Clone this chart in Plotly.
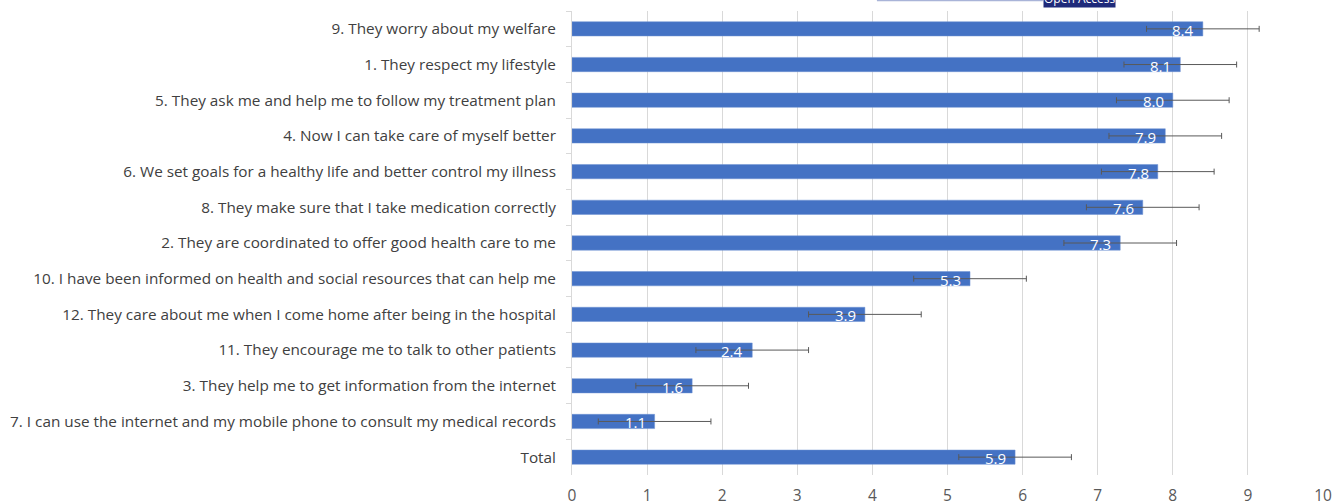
import plotly.graph_objects as go

categories = [
    "9. They worry about my welfare",
    "1. They respect my lifestyle",
    "5. They ask me and help me to follow my treatment plan",
    "4. Now I can take care of myself better",
    "6. We set goals for a healthy life and better control my illness",
    "8. They make sure that I take medication correctly",
    "2. They are coordinated to offer good health care to me",
    "10. I have been informed on health and social resources that can help me",
    "12. They care about me when I come home after being in the hospital",
    "11. They encourage me to talk to other patients",
    "3. They help me to get information from the internet",
    "7. I can use the internet and my mobile phone to consult my medical records",
    "Total",
]
values = [8.4, 8.1, 8.0, 7.9, 7.8, 7.6, 7.3, 5.3, 3.9, 2.4, 1.6, 1.1, 5.9]
errors = [0.75] * 13
x_ticks = [0, 1, 2, 3, 4, 5, 6, 7, 8, 9, 10]

fig = go.Figure()
fig.add_trace(go.Bar(
    y=categories, x=values, orientation="h",
    marker=dict(color="#4472C4", line=dict(color="#6f93d3", width=0.5)),
    error_x=dict(type="data", array=errors, visible=True, color="#595959", thickness=1, width=3),
    hoverinfo="skip",
))
for cat, v in zip(categories, values):
    fig.add_annotation(x=v, y=cat, xref="x", yref="y", text=f"{v:.1f}", showarrow=False,
                       xanchor="right", yanchor="middle", xshift=-7, yshift=-1,
                       font=dict(color="white", size=15, family="Open Sans"))

fig.update_layout(
    width=1333, height=504,
    margin=dict(l=572, r=10, t=11, b=29),
    paper_bgcolor="white", plot_bgcolor="white",
    bargap=0.6, showlegend=False,
    font=dict(family="Open Sans", color="#404040"),
)
fig.update_xaxes(range=[0, 10], tickvals=x_ticks, showgrid=True, gridcolor="#d9d9d9", gridwidth=1,
                 zeroline=False, showline=False, tickfont=dict(size=15.5, color="#595959"), ticks="",
                 ticklabelstandoff=9, automargin=False)
fig.update_yaxes(autorange="reversed", categoryorder="array", categoryarray=categories,
                 showline=True, linecolor="#d9d9d9", linewidth=1, ticks="outside", ticklen=5,
                 tickcolor="#d9d9d9", tickson="boundaries", ticklabelstandoff=12,
                 tickfont=dict(size=15.3, color="#404040"), automargin=False)

fig.add_shape(type="line", xref="paper", yref="paper", x0=0.406, x1=0.627, y0=1.0226, y1=1.0226,
              line=dict(color="#a9b4d8", width=1.5))
fig.add_annotation(xref="paper", yref="paper", x=0.627, y=1.0065, xanchor="left", yanchor="bottom",
                   text="Open Access", showarrow=False, bgcolor="#1f2a7a", borderpad=0,
                   font=dict(color="white", size=12))

fig.write_html("out.html", post_script="document.body.style.margin='0';",
               config={"displayModeBar": False})
